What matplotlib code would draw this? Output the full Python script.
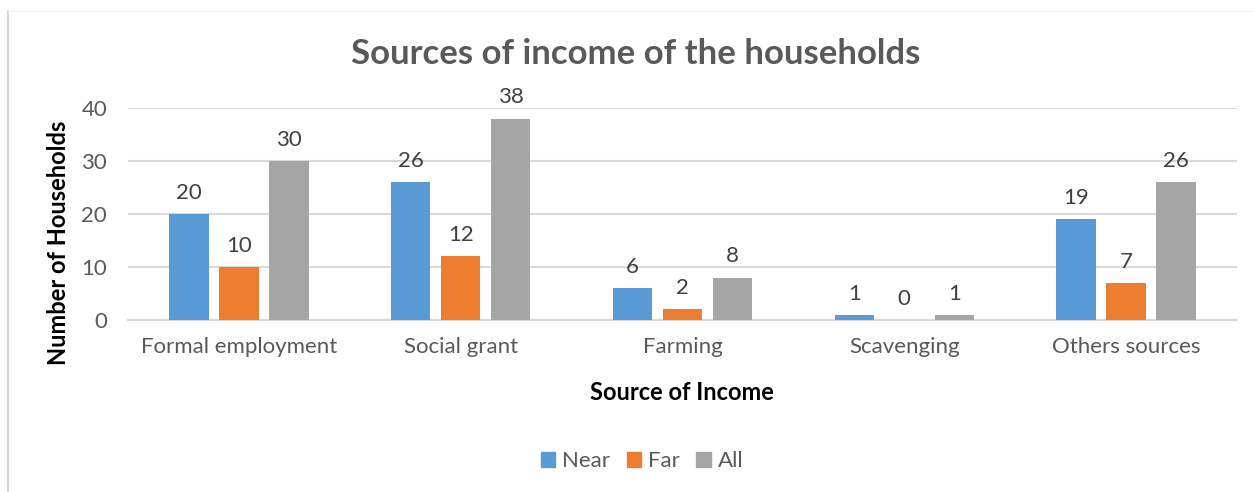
import matplotlib
matplotlib.use("Agg")
import matplotlib.pyplot as plt
from matplotlib.lines import Line2D
import numpy as np

categories = ["Formal employment", "Social grant", "Farming", "Scavenging", "Others sources"]
near = [20, 26, 6, 1, 19]
far = [10, 12, 2, 0, 7]
all_ = [30, 38, 8, 1, 26]
series_names = ["Near", "Far", "All"]
colors = ["#5B9BD5", "#ED7D31", "#A5A5A5"]

plt.rcParams['font.family'] = ['Lato', 'DejaVu Sans']

fig = plt.figure(figsize=(12.54, 4.92), dpi=100)
ax = fig.add_axes([128/1254, 1-320/492, (1237-128)/1254, (320-108)/492])

x = np.arange(len(categories))
bw = 0.178
sp = 0.2254
for i, (vals, name, c) in enumerate(zip([near, far, all_], series_names, colors)):
    pos = x + (i - 1) * sp
    ax.bar(pos, vals, width=bw, color=c, label=name, zorder=3)
    for xb, v in zip(pos, vals):
        ax.annotate(str(v), (xb, v), xytext=(0, 8), textcoords='offset points',
                    ha='center', va='bottom', fontsize=16, color='#404040')

ax.set_xlim(-0.5, len(categories) - 0.5)
ax.set_ylim(0, 40)
ax.set_yticks([0, 10, 20, 30, 40])
ax.yaxis.grid(True, color='#D9D9D9', linewidth=1.5, zorder=0)
ax.set_axisbelow(True)
for s in ['top', 'right', 'left']:
    ax.spines[s].set_visible(False)
ax.spines['bottom'].set_color('#D9D9D9')
ax.spines['bottom'].set_linewidth(1.5)
ax.tick_params(axis='both', length=0, labelsize=16, labelcolor='#595959')
ax.tick_params(axis='y', pad=15)
ax.tick_params(axis='x', pad=12)
ax.set_xticks(x)
ax.set_xticklabels(categories)

ax.set_xlabel("Source of Income", fontsize=17, fontweight='bold', color='black')
ax.set_ylabel("Number of Households", fontsize=17, fontweight='bold', color='black')
ax.xaxis.set_label_coords((682-128)/1109, (320-393)/212)
ax.yaxis.set_label_coords((59-128)/1109, (320-243)/212)
ax.xaxis.label.set_va('center')
ax.yaxis.label.set_va('center')

fig.text(636/1254, 1-54/492, "Sources of income of the households", ha='center', va='center',
         fontsize=25, fontweight='bold', color='#595959')

handles = [plt.Rectangle((0, 0), 1, 1, color=c) for c in colors]
leg = fig.legend(handles, series_names, loc='center', bbox_to_anchor=(642/1254, 1-461/492),
                 ncol=3, frameon=False, fontsize=16, handlelength=0.65, handleheight=0.65,
                 handletextpad=0.3, columnspacing=0.75)
for t in leg.get_texts():
    t.set_color('#595959')

# chart border
fig.add_artist(Line2D([8/1254, 8/1254], [0, 1-11/492], transform=fig.transFigure, color='#D9D9D9', linewidth=1.5))
fig.add_artist(Line2D([8/1254, 1], [1-11/492, 1-11/492], transform=fig.transFigure, color='#F2F2F2', linewidth=1))

fig.savefig("out.png", dpi=100)
